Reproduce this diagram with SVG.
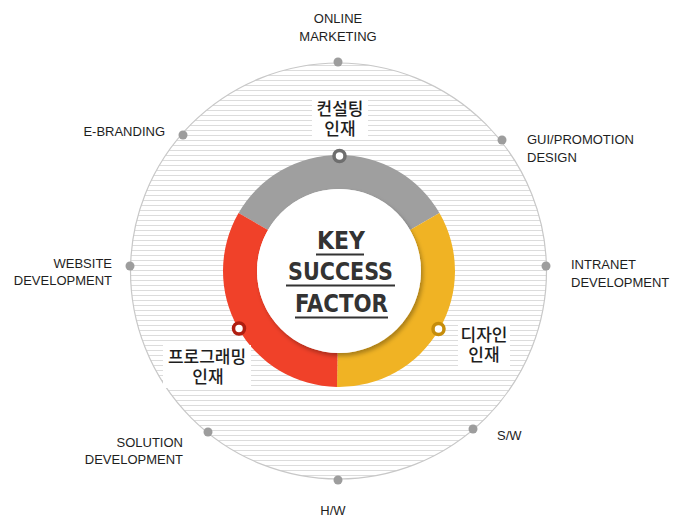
<svg xmlns="http://www.w3.org/2000/svg" width="682" height="528" viewBox="0 0 682 528">
<defs>
<pattern id="hatch" patternUnits="userSpaceOnUse" x="0" y="0" width="10" height="5">
<rect x="0" y="0" width="10" height="1" fill="#dcdcdc"/>
</pattern>
<clipPath id="clipC"><circle cx="338.5" cy="271" r="208"/></clipPath>
<filter id="sh" x="-20%" y="-20%" width="150%" height="150%">
<feDropShadow dx="2" dy="3" stdDeviation="2" flood-color="#000" flood-opacity="0.3"/>
</filter>
</defs>
<style>
.lbl{font-family:"Liberation Sans",Arial,sans-serif;font-size:13px;fill:#1e1e1e}
.kr{font-family:"Noto Sans CJK KR",sans-serif;font-size:17px;font-weight:500;fill:#1e1e1e;text-anchor:middle}
.dot{fill:#9d9d9d}
.key{font-family:"DejaVu Sans Condensed","DejaVu Sans",sans-serif;font-weight:bold;font-size:25px;fill:#333}
.ul{fill:#333}
.bg{fill:#fff}
</style>
<rect width="682" height="528" fill="#fff"/>
<g id="outer-circle">
<rect x="120" y="55" width="440" height="432" fill="url(#hatch)" clip-path="url(#clipC)"/>
<circle cx="338.5" cy="271" r="208" fill="none" stroke="#c8c8c8" stroke-width="1.2"/>
</g>
<g id="connectors"></g>
<g id="node-online"><circle class="dot" cx="338" cy="62" r="4.5"/><text class="lbl" x="338" y="23" text-anchor="middle">ONLINE</text><text class="lbl" x="338" y="41" text-anchor="middle">MARKETING</text></g>
<g id="node-ebranding"><circle class="dot" cx="183" cy="135" r="4.5"/><text class="lbl" x="165" y="136" text-anchor="end">E-BRANDING</text></g>
<g id="node-gui"><circle class="dot" cx="502" cy="140" r="4.5"/><text class="lbl" x="527" y="144">GUI/PROMOTION</text><text class="lbl" x="527" y="162">DESIGN</text></g>
<g id="node-website"><circle class="dot" cx="130" cy="266" r="4.5"/><text class="lbl" x="112" y="268" text-anchor="end">WEBSITE</text><text class="lbl" x="112" y="285" text-anchor="end">DEVELOPMENT</text></g>
<g id="node-intranet"><circle class="dot" cx="546" cy="266" r="4.5"/><text class="lbl" x="571" y="269">INTRANET</text><text class="lbl" x="571" y="287">DEVELOPMENT</text></g>
<g id="node-solution"><circle class="dot" cx="208" cy="432" r="4.5"/><text class="lbl" x="183" y="447" text-anchor="end">SOLUTION</text><text class="lbl" x="183" y="464" text-anchor="end">DEVELOPMENT</text></g>
<g id="node-sw"><circle class="dot" cx="473" cy="429" r="4.5"/><text class="lbl" x="497" y="440">S/W</text></g>
<g id="node-hw"><circle class="dot" cx="338" cy="480" r="4.5"/><text class="lbl" x="333" y="515" text-anchor="middle">H/W</text></g>
<g id="node-ksf">
<path d="M238.54,213 A116,116 0 0 1 439.46,213 L410.01,230 A82,82 0 0 0 267.99,230 Z" fill="#9f9f9f"/>
<path d="M439.46,213 A116,116 0 0 1 336.98,386.98 L337.57,352.99 A82,82 0 0 0 410.01,230 Z" fill="#f0b324"/>
<path d="M336.98,386.98 A116,116 0 0 1 238.54,213 L267.99,230 A82,82 0 0 0 337.57,352.99 Z" fill="#f04129"/>
<circle cx="339" cy="271" r="82" fill="#fff" filter="url(#sh)"/>
<text class="key" x="341" y="248.5" text-anchor="middle" textLength="48" lengthAdjust="spacingAndGlyphs">KEY</text>
<rect class="ul" x="316" y="253.5" width="48" height="2"/>
<text class="key" x="340.5" y="279.5" text-anchor="middle" textLength="105" lengthAdjust="spacingAndGlyphs">SUCCESS</text>
<rect class="ul" x="286" y="284.5" width="109" height="2"/>
<text class="key" x="341.5" y="311.5" text-anchor="middle" textLength="93" lengthAdjust="spacingAndGlyphs">FACTOR</text>
<rect class="ul" x="295" y="316.5" width="93" height="2"/>
</g>
<g id="node-consulting">
<rect class="bg" x="312" y="97" width="56" height="43"/>
<circle cx="339.5" cy="156" r="5.5" fill="#fff" stroke="#6e6e6e" stroke-width="3.5"/>
<text class="kr" x="340" y="115">컨설팅</text>
<text class="kr" x="340" y="135">인재</text>
</g>
<g id="node-design">
<rect class="bg" x="458" y="324" width="52" height="43"/>
<circle cx="438.5" cy="329" r="5.5" fill="#fff" stroke="#c68d0b" stroke-width="3.5"/>
<text class="kr" x="484" y="341">디자인</text>
<text class="kr" x="484" y="361">인재</text>
</g>
<g id="node-programming">
<rect class="bg" x="163" y="345" width="88" height="43"/>
<circle cx="239" cy="328.5" r="5.5" fill="#fff" stroke="#b01e10" stroke-width="3.5"/>
<text class="kr" x="207" y="363">프로그래밍</text>
<text class="kr" x="208" y="383">인재</text>
</g>
</svg>
